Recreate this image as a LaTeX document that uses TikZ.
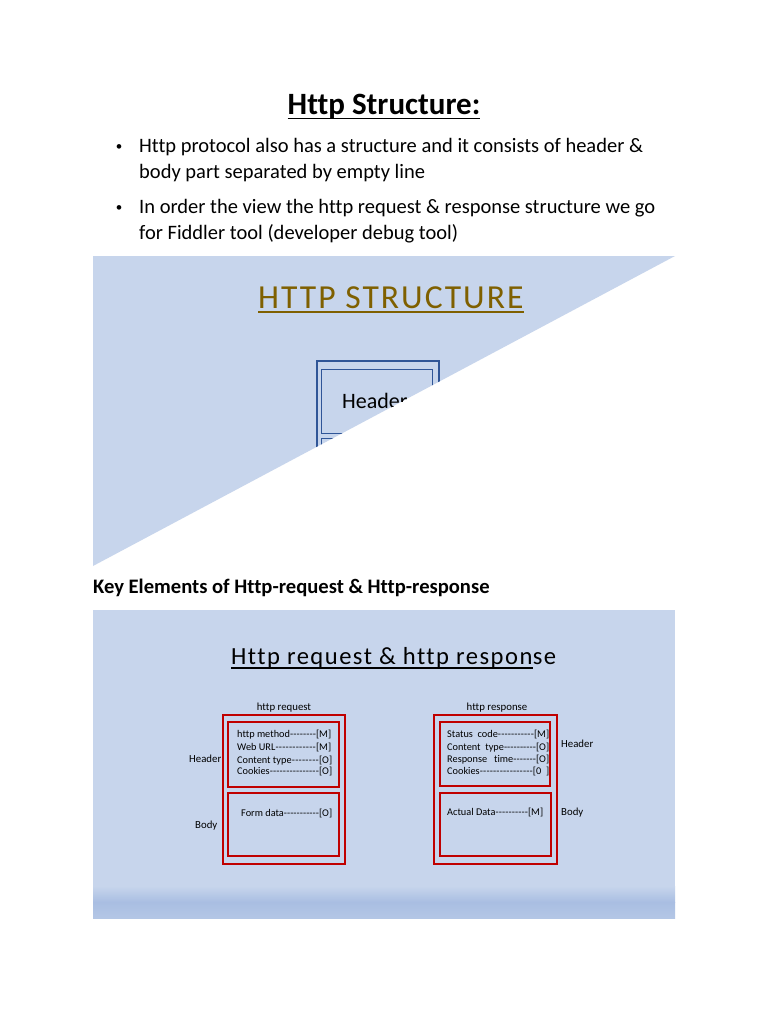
\documentclass[tikz,border=0pt]{standalone}
\usepackage{fontspec}
\setmainfont{Carlito}[Ligatures=NoCommon]
\newfontfamily\slidefont[LetterSpace=6,Ligatures=NoCommon]{Carlito}
\usetikzlibrary{positioning}

\definecolor{slideblue}{HTML}{C7D5EC}
\definecolor{bandblue}{HTML}{A9BEE2}
\definecolor{titlebrown}{HTML}{7F6000}
\definecolor{boxblue}{HTML}{2F5597}
\definecolor{boxred}{HTML}{C00000}

% label, dashes, tag in a box of fixed width
\newcommand{\leadrow}[3]{\makebox[#1][l]{#2\xleaders\hbox{-}\hfill#3}}

\tikzset{
  txt/.style={inner sep=0pt, anchor=base west},
  bodytxt/.style={txt, font=\fontsize{20.5}{24}\selectfont},
  dot/.style={inner sep=0pt, anchor=base, font=\fontsize{13}{15}\selectfont},
  small/.style={txt, font=\fontsize{10.3}{12}\selectfont},
  side/.style={txt, font=\fontsize{10.8}{12}\selectfont},
  redouter/.style={draw=boxred, line width=2.4pt},
  redinner/.style={draw=boxred, line width=1.2pt},
}

\begin{document}
\begin{tikzpicture}[x=1pt,y=-1pt]
\useasboundingbox (0,0) rectangle (768,1024);
\fill[white] (0,0) rectangle (768,1024);

% Title
\node[inner sep=0pt, anchor=base, font=\fontsize{31}{35}\selectfont\bfseries]
  (title) at (384,115) {Http Structure:};
\draw[line width=1.8pt]
  ([yshift=-3.5pt]title.base west) -- ([yshift=-3.5pt]title.base east);

% Bullets
\node[dot] (b1) at (119,151) {\textbullet};
\node[bodytxt] (l1) at (139,153)
  {Http protocol also has a structure and it consists of header \&};
\node[bodytxt] (l2) at (139,179) {body part separated by empty line};
\node[dot] (b2) at (119,212) {\textbullet};
\node[bodytxt] (l3) at (139,214)
  {In order the view the http request \& response structure we go};
\node[bodytxt] (l4) at (139,240) {for Fiddler tool (developer debug tool)};

% Slide 1 (cut along the diagonal)
\fill[slideblue]
(93,256)
-- (675,256)
-- (93,566)
-- cycle;

\begin{scope}
\clip
(93,256)
-- (675,256)
-- (93,566)
-- cycle;

\node[inner sep=0pt, anchor=base west, text=titlebrown,
  font=\fontsize{33.6}{37}\slidefont]
  (stitle) at (258,308) {HTTP STRUCTURE};
\draw[titlebrown, line width=1.8pt]
  ([yshift=-4pt]stitle.base west) -- ([yshift=-4pt]stitle.base east);

\draw[boxblue, line width=1.8pt] (317,361) rectangle (439,560);
\draw[boxblue, line width=0.9pt] (321,369) rectangle (432,433);
\draw[boxblue, line width=0.9pt] (321,438) rectangle (432,552);
\node[txt, font=\fontsize{22}{26}\selectfont] (shead) at (342,408) {Header};
\end{scope}

% Caption
\node[txt, font=\fontsize{20.6}{24}\selectfont\bfseries]
  (caption) at (93,593) {Key Elements of Http-request \& Http-response};

% Slide 2
\fill[slideblue] (93,610) rectangle (675,918);
\shade[top color=slideblue, bottom color=bandblue]
  (93,886) rectangle (675,902);
\shade[top color=bandblue, bottom color=bandblue!65!slideblue]
  (93,902) rectangle (675,918);

\node[txt, font=\fontsize{24.6}{28}\slidefont]
  (ttl) at (231,664) {Http request \& http respon};
\node[txt, font=\fontsize{24.6}{28}\slidefont]
  (ttlend) at (ttl.base east) {se};
\draw[line width=1.2pt]
  ([yshift=-4pt]ttl.base west) -- ([yshift=-4pt]ttl.base east);

% Request
\node[side, anchor=base] (reqlbl) at (284,710) {http request};
\draw[redouter] (223,715) rectangle (345,864);
\draw[redinner] (228,722) rectangle (339,787);
\draw[redinner] (228,793) rectangle (339,856);
\node[side] (reqhead) at (189,762) {Header};
\node[side] (reqbody) at (195,828) {Body};

\node[small] (rq1) at (237,737) {\leadrow{94pt}{http method}{[M]}};
\node[small] (rq2) at (237,750) {\leadrow{94pt}{Web URL}{[M]}};
\node[small] (rq3) at (237,763) {\leadrow{95pt}{Content type}{[O]}};
\node[small] (rq4) at (237,774) {\leadrow{95pt}{Cookies}{[O]}};
\node[small] (rq5) at (241,816) {\leadrow{91pt}{Form data}{[O]}};

% Response
\node[side, anchor=base] (reslbl) at (497,710) {http response};
\draw[redouter] (434,715) rectangle (557,864);
\draw[redinner] (440,722) rectangle (550,786);
\draw[redinner] (440,793) rectangle (551,856);
\node[side] (reshead) at (561,747) {Header};
\node[side] (resbody) at (561,815) {Body};

\node[small] (rs1) at (447,737) {\leadrow{102pt}{Status\ \ code}{[M]}};
\node[small] (rs2) at (447,750) {\leadrow{102pt}{Content\ \ type}{[O]}};
\node[small] (rs3) at (447,762) {\leadrow{102pt}{Response\ \ \ time}{[O]}};
\node[small] (rs4) at (447,774) {\leadrow{102pt}{Cookies}{[0\ \ ]}};
\node[small] (rs5) at (447,815) {\leadrow{96pt}{Actual Data}{[M]}};

\end{tikzpicture}
\end{document}
